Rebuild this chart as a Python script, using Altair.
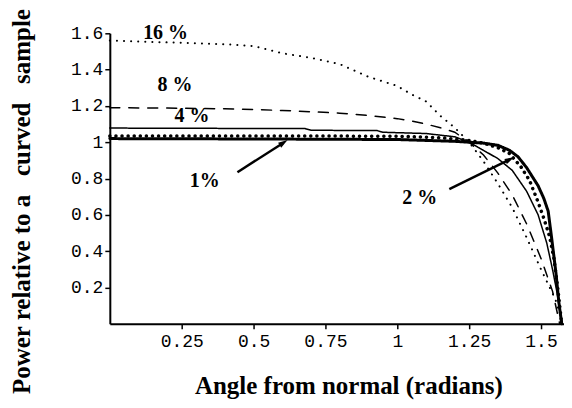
import altair as alt
import pandas as pd

# ---- data ----
ang_16 = [0.0, 0.1, 0.2, 0.3, 0.4, 0.5, 0.6, 0.7, 0.8, 0.9, 1.0, 1.05, 1.1, 1.15, 1.2, 1.25, 1.3, 1.35, 1.4, 1.45, 1.5, 1.55, 1.576]
pow_16 = [1.56, 1.555, 1.55, 1.545, 1.54, 1.53, 1.49, 1.465, 1.43, 1.36, 1.31, 1.263, 1.225, 1.145, 1.08, 1.0, 0.895, 0.772, 0.64, 0.475, 0.30, 0.135, 0.0]

ang_8 = [0.0, 0.2, 0.4, 0.5, 0.6, 0.7, 0.8, 0.9, 1.0, 1.05, 1.1, 1.15, 1.2, 1.25, 1.3, 1.35, 1.4, 1.45, 1.5, 1.54, 1.565]
pow_8 = [1.19, 1.188, 1.184, 1.18, 1.175, 1.168, 1.16, 1.147, 1.13, 1.117, 1.1, 1.08, 1.055, 1.0, 0.93, 0.83, 0.71, 0.55, 0.36, 0.18, 0.0]

ang_4 = [0.0, 0.68, 0.7, 0.93, 0.95, 1.1, 1.2, 1.25, 1.3, 1.35, 1.4, 1.45, 1.49, 1.52, 1.54, 1.556, 1.572]
pow_4 = [1.078, 1.075, 1.066, 1.064, 1.055, 1.048, 1.03, 1.0, 0.955, 0.91, 0.845, 0.73, 0.6, 0.445, 0.3, 0.17, 0.0]

ang_2 = [0.0, 0.5, 1.0, 1.15, 1.25, 1.3, 1.35, 1.39, 1.43, 1.46, 1.49, 1.51, 1.53, 1.545, 1.558, 1.572]
pow_2 = [1.035, 1.035, 1.033, 1.025, 1.01, 0.995, 0.97, 0.938, 0.865, 0.79, 0.67, 0.58, 0.48, 0.36, 0.2, 0.0]

ang_1 = [0.0, 0.5, 1.0, 1.2, 1.3, 1.35, 1.39, 1.42, 1.45, 1.47, 1.49, 1.51, 1.525, 1.538, 1.552, 1.562, 1.572]
pow_1 = [1.02, 1.018, 1.015, 1.005, 0.995, 0.983, 0.956, 0.92, 0.86, 0.81, 0.76, 0.69, 0.62, 0.46, 0.28, 0.12, 0.0]

label_text = ["16 %", "8 %", "4 %", "1%", "2 %"]
label_x = [0.194, 0.227, 0.286, 0.33, 1.078]
label_y = [1.604, 1.313, 1.143, 0.786, 0.692]

arrow_x = [0.444, 1.181]
arrow_y = [0.835, 0.742]
arrow_x2 = [0.603, 1.39]
arrow_y2 = [0.996, 0.904]
arrow_angle = [57, 64]

x_ticks = [0.25, 0.5, 0.75, 1, 1.25, 1.5]
y_ticks = [0.2, 0.4, 0.6, 0.8, 1.0, 1.2, 1.4, 1.6]

xscale = alt.Scale(domain=[0, 1.58], nice=False, zero=False)
yscale = alt.Scale(domain=[0, 1.6], nice=False)

x_axis = alt.Axis(values=x_ticks, labelExpr="toString(datum.value)", title="Angle from normal (radians)",
                  titleX=239, titleY=70, titleAlign="center", titleBaseline="alphabetic",
                  labelPadding=4)
y_axis = alt.Axis(values=y_ticks, labelExpr="toString(datum.value)",
                  title="Power relative to a\u00a0\u00a0\u00a0curved\u00a0\u00a0\u00a0sample",
                  titleX=-88, titleY=168, titleAlign="center", titleBaseline="middle",
                  titleAngle=-90, labelPadding=2)


def X(field):
    return alt.X(field, type="quantitative", scale=xscale, axis=x_axis)


def Y(field):
    return alt.Y(field, type="quantitative", scale=yscale, axis=y_axis)


def curve(xs, ys, dash, width):
    df = pd.DataFrame({"angle": xs, "power": ys, "order": list(range(len(xs)))})
    return alt.Chart(df).mark_line(color="black", strokeCap="round", strokeDash=dash,
                                   strokeWidth=width).encode(
        x=X("angle"), y=Y("power"), order="order:Q",
    )


c16 = curve(ang_16, pow_16, [0.1, 7], 2)
c8 = curve(ang_8, pow_8, [10, 9], 1.5)
c4 = curve(ang_4, pow_4, [1, 0], 1.5)
c2 = curve(ang_2, pow_2, [0.1, 6], 3.5)
c1 = curve(ang_1, pow_1, [1, 0], 3)

labels_df = pd.DataFrame({"text": label_text, "x": label_x, "y": label_y})
arrows_df = pd.DataFrame({"x": arrow_x, "y": arrow_y, "x2": arrow_x2, "y2": arrow_y2, "ang": arrow_angle})

texts = alt.Chart(labels_df).mark_text(font="Liberation Serif", fontWeight="bold", fontSize=20,
                                       color="black", baseline="middle", align="center").encode(
    x=X("x"), y=Y("y"), text="text:N")

rules = alt.Chart(arrows_df).mark_rule(color="black", strokeWidth=2.5).encode(
    x=X("x"), y=Y("y"), x2="x2:Q", y2="y2:Q")

heads = alt.Chart(arrows_df).mark_point(shape="M0,-1L0.55,0.8L-0.55,0.8Z", filled=True,
                                         color="black", opacity=1, size=110).encode(
    x=X("x2"), y=Y("y2"),
    angle=alt.Angle("ang:Q", scale=None))

chart = alt.layer(c16, c8, c4, c2, c1, rules, heads, texts).properties(
    width=455, height=291,
    autosize=alt.AutoSizeParams(type="none"),
    padding={"left": 102, "top": 25, "right": 0, "bottom": 76},
).configure_view(stroke=None).configure_axis(
    grid=False, domainColor="black", domainWidth=2, tickColor="black", tickWidth=1.5, tickSize=5,
    labelFont="Liberation Mono", labelFontSize=18, labelColor="black",
    titleFont="Liberation Serif", titleFontWeight="bold", titleFontSize=25, titleColor="black",
)

chart.save("out.html", embed_options={"renderer": "svg", "actions": False})
